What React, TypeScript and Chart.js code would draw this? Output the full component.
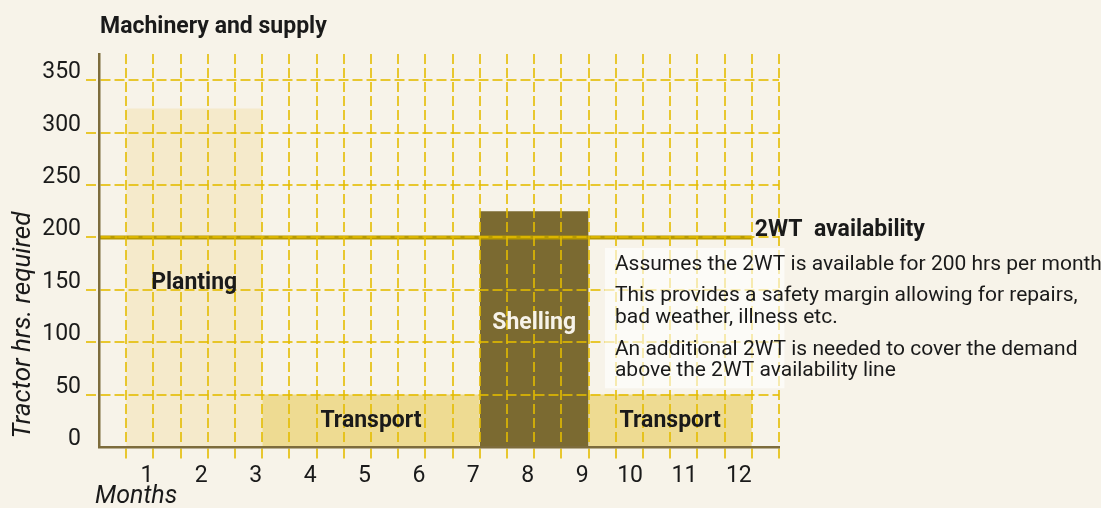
import React, { useEffect, useRef } from 'react';
import { Chart, registerables } from 'chart.js';

Chart.register(...registerables);

// ---- data ----
const monthLabels = [1, 2, 3, 4, 5, 6, 7, 8, 9, 10, 11, 12];
const phaseNames = ['Planting', 'Transport', 'Shelling', 'Transport'];
const phaseStart = [0.5, 3, 7, 9];
const phaseEnd = [3, 7, 9, 12];
const phaseHours = [323, 50, 225, 50];
const phaseColors = ['#f5eacb', '#eedb92', '#7b6a31', '#eedb92'];
const phaseTextColors = ['#1a1a1a', '#1a1a1a', '#f7f3e9', '#1a1a1a'];
const phaseLabelX = [1.75, 5, 8, 10.5];
const phaseLabelY = [156, 25, 118, 25];
const yTickLabels = [0, 50, 100, 150, 200, 250, 300, 350];
const availabilityHours = 200;
const availabilityEndMonth = 12;
const availabilityLabel = '2WT  availability';
const noteLines = [
  'Assumes the 2WT is available for 200 hrs per month',
  'This provides a safety margin allowing for repairs,',
  'bad weather, illness etc.',
  'An additional 2WT is needed to cover the demand',
  'above the 2WT availability line',
];
const noteLineOffsets = [17, 48, 70, 102, 123];
const noteBox = { x0: 9.3, x1: 12.6, y0: 56, y1: 190 };

const FONT = 'Roboto, "Noto Sans", sans-serif';
const BG = '#f7f3e9';
const GRID = 'rgba(228,188,0,0.8)';
const AXIS = '#7d6c3c';
const TEXT = '#1a1a1a';
const DASH = [10, 4];

const textPlugin = {
  id: 'texts',
  afterDraw(chart: any) {
    const { ctx, scales } = chart;
    const x = scales.x;
    const y = scales.y;
    ctx.save();
    // note box
    const bx0 = x.getPixelForValue(noteBox.x0);
    const bx1 = x.getPixelForValue(noteBox.x1);
    const by0 = y.getPixelForValue(noteBox.y1);
    const by1 = y.getPixelForValue(noteBox.y0);
    ctx.fillStyle = 'rgba(255,255,255,0.62)';
    ctx.fillRect(bx0, by0, bx1 - bx0, by1 - by0);
    ctx.fillStyle = TEXT;
    ctx.font = `21px ${FONT}`;
    ctx.textAlign = 'left';
    ctx.textBaseline = 'middle';
    noteLines.forEach((t, i) => ctx.fillText(t, bx0 + 10, by0 + noteLineOffsets[i]));

    // phase labels
    ctx.font = `bold 23px ${FONT}`;
    ctx.textAlign = 'center';
    phaseNames.forEach((n, i) => {
      ctx.fillStyle = phaseTextColors[i];
      ctx.fillText(n, x.getPixelForValue(phaseLabelX[i]), y.getPixelForValue(phaseLabelY[i]));
    });

    // availability label
    ctx.fillStyle = TEXT;
    ctx.textAlign = 'left';
    ctx.fillText(availabilityLabel, x.getPixelForValue(availabilityEndMonth) + 3, y.getPixelForValue(availabilityHours) - 7);

    // title
    ctx.font = `bold 23px ${FONT}`;
    ctx.fillText('Machinery and supply', 100, 27);

    // axis titles
    ctx.font = `italic 25px ${FONT}`;
    ctx.fillText('Months', 95, 497);
    ctx.save();
    ctx.translate(23, 325);
    ctx.rotate(-Math.PI / 2);
    ctx.textAlign = 'center';
    ctx.font = `italic 26px ${FONT}`;
    ctx.fillText('Tractor hrs. required', 0, 0);
    ctx.restore();
    ctx.restore();
  },
};

const bgPlugin = {
  id: 'bg',
  beforeDraw(chart: any) {
    const { ctx, width, height } = chart;
    ctx.save();
    ctx.fillStyle = BG;
    ctx.fillRect(0, 0, width, height);
    ctx.restore();
  },
};

export default function App() {
  const ref = useRef<HTMLCanvasElement>(null);
  useEffect(() => {
    if (!ref.current) return;
    const phaseDatasets = phaseNames.map((n, i) => ({
      label: n,
      data: [
        { x: phaseStart[i], y: phaseHours[i] },
        { x: phaseEnd[i], y: phaseHours[i] },
      ],
      backgroundColor: phaseColors[i],
      borderWidth: 0,
      borderColor: 'transparent',
      pointRadius: 0,
      fill: 'origin',
      order: 2,
    }));
    const gridColor = (c: any) => (c.tick && c.tick.value === 0 ? 'transparent' : GRID);
    const chart = new Chart(ref.current, {
      type: 'line',
      data: {
        datasets: [
          ...phaseDatasets,
          {
            label: 'availability',
            data: [
              { x: 0, y: availabilityHours },
              { x: availabilityEndMonth, y: availabilityHours },
            ],
            borderColor: '#b89a00',
            borderWidth: 4,
            pointRadius: 0,
            fill: false,
            order: 1,
          },
        ] as any,
      },
      options: {
        animation: false,
        responsive: false,
        maintainAspectRatio: false,
        layout: { padding: { left: 0, top: 54, right: 322, bottom: 0 } },
        plugins: { legend: { display: false }, tooltip: { enabled: false }, title: { display: false } },
        scales: {
          x: {
            type: 'linear',
            min: 0,
            max: 12.5,
            afterFit: (s: any) => { s.height = 61; },
            ticks: {
              stepSize: 0.5,
              autoSkip: false,
              maxRotation: 0,
              align: 'end',
              padding: 3,
              color: TEXT,
              font: { family: FONT, size: 23 },
              callback: (v: any) => (monthLabels.includes(v) ? String(v) : ''),
            },
            grid: {
              color: gridColor,
              tickColor: gridColor,
              lineWidth: 2,
              tickLength: 12,
              tickBorderDash: DASH,
              z: 1,
            },
            border: { color: AXIS, width: 2.5, dash: DASH, z: 1 },
          },
          y: {
            type: 'linear',
            min: 0,
            max: 375,
            afterFit: (s: any) => { s.width = 99; },
            ticks: {
              stepSize: 25,
              padding: 5,
              color: TEXT,
              font: { family: FONT, size: 23, lineHeight: 0.68 },
              callback: (v: any) => (yTickLabels.includes(v) ? [String(v), ''] : ''),
            },
            grid: {
              color: gridColor,
              tickColor: gridColor,
              lineWidth: 2,
              tickLength: 13,
              tickBorderDash: DASH,
              z: 1,
            },
            border: { color: AXIS, width: 2.5, dash: DASH, z: 1 },
          },
        },
      } as any,
      plugins: [bgPlugin, textPlugin],
    });
    return () => chart.destroy();
  }, []);
  return (
    <div style={{ position: 'fixed', left: 0, top: 0, width: 1101, height: 508, background: BG }}>
      <canvas ref={ref} width={1101} height={508} style={{ display: 'block' }} />
    </div>
  );
}
